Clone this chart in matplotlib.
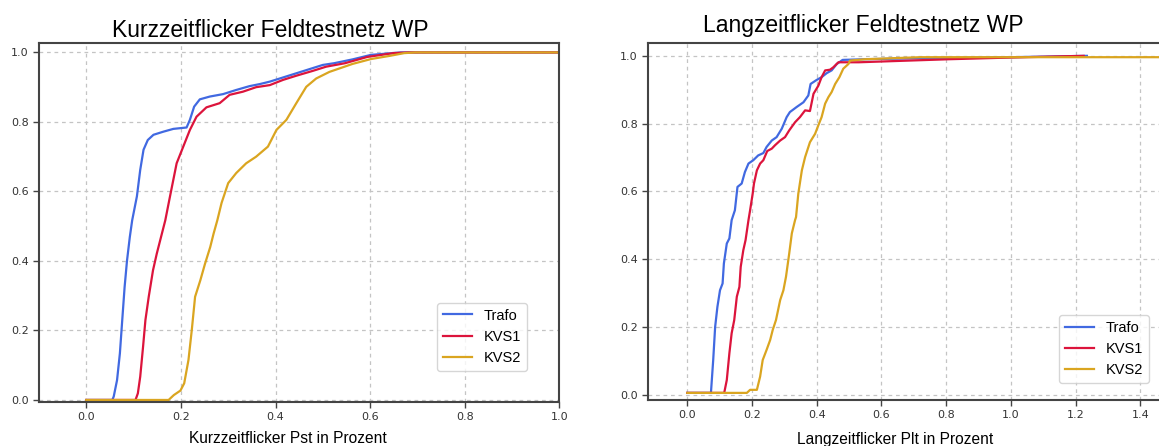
import matplotlib
matplotlib.use("Agg")
import matplotlib.pyplot as plt

# Kurzzeitflicker (Pst) - kumulierte Verteilung
pst_trafo_x = [0.0, 0.055, 0.058, 0.065, 0.071, 0.076, 0.081, 0.086, 0.092, 0.097,
               0.107, 0.114, 0.121, 0.130, 0.142, 0.163, 0.184, 0.212, 0.219, 0.228,
               0.240, 0.261, 0.289, 0.317, 0.345, 0.367, 0.388, 0.416, 0.444, 0.472,
               0.500, 0.524, 0.563, 0.602, 0.665, 1.0]
pst_trafo_y = [0.0, 0.0, 0.01, 0.057, 0.134, 0.23, 0.325, 0.40, 0.469, 0.517,
               0.586, 0.662, 0.72, 0.748, 0.763, 0.772, 0.780, 0.784, 0.806, 0.844,
               0.865, 0.873, 0.880, 0.892, 0.903, 0.909, 0.916, 0.928, 0.940, 0.952,
               0.964, 0.969, 0.980, 0.993, 1.0, 1.0]

pst_kvs1_x = [0.0, 0.104, 0.109, 0.114, 0.120, 0.125, 0.132, 0.141, 0.149, 0.158,
              0.167, 0.177, 0.191, 0.205, 0.219, 0.233, 0.254, 0.282, 0.303, 0.331,
              0.359, 0.388, 0.416, 0.444, 0.479, 0.507, 0.547, 0.594, 0.649, 0.68, 1.0]
pst_kvs1_y = [0.0, 0.0, 0.019, 0.067, 0.153, 0.23, 0.297, 0.373, 0.421, 0.469,
              0.517, 0.586, 0.681, 0.729, 0.777, 0.815, 0.842, 0.854, 0.878, 0.887,
              0.900, 0.906, 0.921, 0.933, 0.947, 0.959, 0.969, 0.987, 0.998, 1.0, 1.0]

pst_kvs2_x = [0.0, 0.174, 0.185, 0.199, 0.207, 0.216, 0.223, 0.230, 0.241, 0.251,
              0.262, 0.269, 0.277, 0.286, 0.300, 0.317, 0.338, 0.359, 0.384, 0.402,
              0.423, 0.444, 0.465, 0.486, 0.514, 0.563, 0.602, 0.641, 0.672, 0.696, 1.0]
pst_kvs2_y = [0.0, 0.0, 0.014, 0.027, 0.048, 0.115, 0.201, 0.297, 0.344, 0.392,
              0.44, 0.478, 0.517, 0.567, 0.624, 0.653, 0.681, 0.700, 0.729, 0.777,
              0.806, 0.854, 0.901, 0.925, 0.944, 0.967, 0.981, 0.990, 0.998, 1.0, 1.0]

# Langzeitflicker (Plt) - kumulierte Verteilung
plt_trafo_x = [0.0, 0.073, 0.080, 0.086, 0.093, 0.101, 0.109, 0.113, 0.122, 0.130,
               0.137, 0.147, 0.155, 0.168, 0.178, 0.189, 0.204, 0.219, 0.235, 0.245,
               0.261, 0.276, 0.292, 0.307, 0.317, 0.338, 0.359, 0.374, 0.381, 0.400,
               0.415, 0.431, 0.446, 0.462, 0.480, 0.55, 0.72, 1.0, 1.235]
plt_trafo_y = [0.005, 0.005, 0.102, 0.200, 0.259, 0.308, 0.328, 0.387, 0.446, 0.461,
               0.515, 0.544, 0.613, 0.623, 0.657, 0.682, 0.692, 0.706, 0.713, 0.731,
               0.750, 0.760, 0.785, 0.819, 0.834, 0.849, 0.863, 0.883, 0.917, 0.929,
               0.937, 0.949, 0.957, 0.976, 0.988, 0.990, 0.993, 0.996, 1.0]

plt_kvs1_x = [0.0, 0.114, 0.122, 0.130, 0.137, 0.145, 0.153, 0.161, 0.165, 0.173,
              0.180, 0.189, 0.194, 0.202, 0.206, 0.215, 0.225, 0.235, 0.247, 0.261,
              0.271, 0.287, 0.302, 0.315, 0.333, 0.348, 0.364, 0.379, 0.390, 0.405,
              0.415, 0.426, 0.441, 0.451, 0.467, 0.530, 0.81, 1.0, 1.225]
plt_kvs1_y = [0.005, 0.005, 0.043, 0.122, 0.181, 0.220, 0.289, 0.318, 0.377, 0.426,
              0.456, 0.515, 0.544, 0.593, 0.623, 0.662, 0.682, 0.692, 0.719, 0.726,
              0.736, 0.750, 0.760, 0.780, 0.804, 0.819, 0.839, 0.837, 0.888, 0.912,
              0.937, 0.957, 0.959, 0.966, 0.981, 0.981, 0.990, 0.995, 1.0]

plt_kvs2_x = [0.0, 0.184, 0.194, 0.215, 0.225, 0.233, 0.245, 0.256, 0.264, 0.274,
              0.287, 0.297, 0.305, 0.315, 0.323, 0.333, 0.336, 0.343, 0.354, 0.364,
              0.379, 0.395, 0.405, 0.415, 0.426, 0.436, 0.446, 0.457, 0.470, 0.482,
              0.498, 0.503, 0.55, 0.72, 1.6]
plt_kvs2_y = [0.005, 0.005, 0.014, 0.014, 0.053, 0.102, 0.132, 0.161, 0.191, 0.220,
              0.279, 0.308, 0.348, 0.417, 0.476, 0.515, 0.524, 0.593, 0.662, 0.701,
              0.745, 0.770, 0.795, 0.819, 0.859, 0.878, 0.893, 0.917, 0.937, 0.962,
              0.976, 0.986, 0.990, 0.996, 0.996]

labels = ["Trafo", "KVS1", "KVS2"]
colors = ["royalblue", "crimson", "goldenrod"]

W, H = 1159, 446
fig = plt.figure(figsize=(W / 100, H / 100), dpi=100)

ax1 = fig.add_axes([39 / W, (H - 401.7) / H, 520.3 / W, 359 / H])
ax2 = fig.add_axes([648.3 / W, (H - 400) / H, 512.7 / W, 356.7 / H])

panels = [
    (ax1, [(pst_trafo_x, pst_trafo_y), (pst_kvs1_x, pst_kvs1_y), (pst_kvs2_x, pst_kvs2_y)],
     "Kurzzeitflicker Feldtestnetz WP", "Kurzzeitflicker Pst in Prozent"),
    (ax2, [(plt_trafo_x, plt_trafo_y), (plt_kvs1_x, plt_kvs1_y), (plt_kvs2_x, plt_kvs2_y)],
     "Langzeitflicker Feldtestnetz WP", "Langzeitflicker Plt in Prozent"),
]

for ax, series, title, xlabel in panels:
    for (xs, ys), lab, col in zip(series, labels, colors):
        ax.plot(xs, ys, color=col, lw=1.6, label=lab)
    ax.grid(True, linestyle="--", color="#c4c4c4", linewidth=0.9, dashes=(3, 3))
    ax.set_axisbelow(True)
    for sp in ax.spines.values():
        sp.set_color("#444444")
        sp.set_linewidth(1.5)
    ax.tick_params(labelsize=8, labelcolor="#333333", color="#444444", length=4, width=1)
    ax.set_yticks([0.0, 0.2, 0.4, 0.6, 0.8, 1.0])

ax1.set_xlim(-0.1, 1.0)
ax1.set_ylim(-0.005, 1.028)
ax2.set_xlim(-0.1206, 1.464)
ax2.set_ylim(-0.016, 1.037)
ax1.set_xticks([0.0, 0.2, 0.4, 0.6, 0.8, 1.0])
ax2.set_xticks([0.0, 0.2, 0.4, 0.6, 0.8, 1.0, 1.2, 1.4])

tfont = dict(family="Liberation Sans", size=16.5)
ax1.set_title(panels[0][2], x=0.4447, y=1.015, pad=0, va="baseline", fontdict=tfont)
ax2.set_title(panels[1][2], x=0.4188, y=1.0325, pad=0, va="baseline", fontdict=tfont)

ax1.set_xlabel(panels[0][3], family="Liberation Sans", fontsize=11.2)
ax2.set_xlabel(panels[1][3], family="Liberation Sans", fontsize=11.2)
ax1.xaxis.label.set_va("baseline")
ax2.xaxis.label.set_va("baseline")
ax1.xaxis.set_label_coords(0.478, -0.1159)
ax2.xaxis.set_label_coords(0.481, -0.1242)

lfont = {"family": "Liberation Sans", "size": 10.5}
ax1.legend(loc="lower right", bbox_to_anchor=(0.9373, 0.0855), borderaxespad=0, prop=lfont)
ax2.legend(loc="lower right", bbox_to_anchor=(0.9766, 0.0468), borderaxespad=0, prop=lfont)

fig.savefig("out.png", dpi=100)
